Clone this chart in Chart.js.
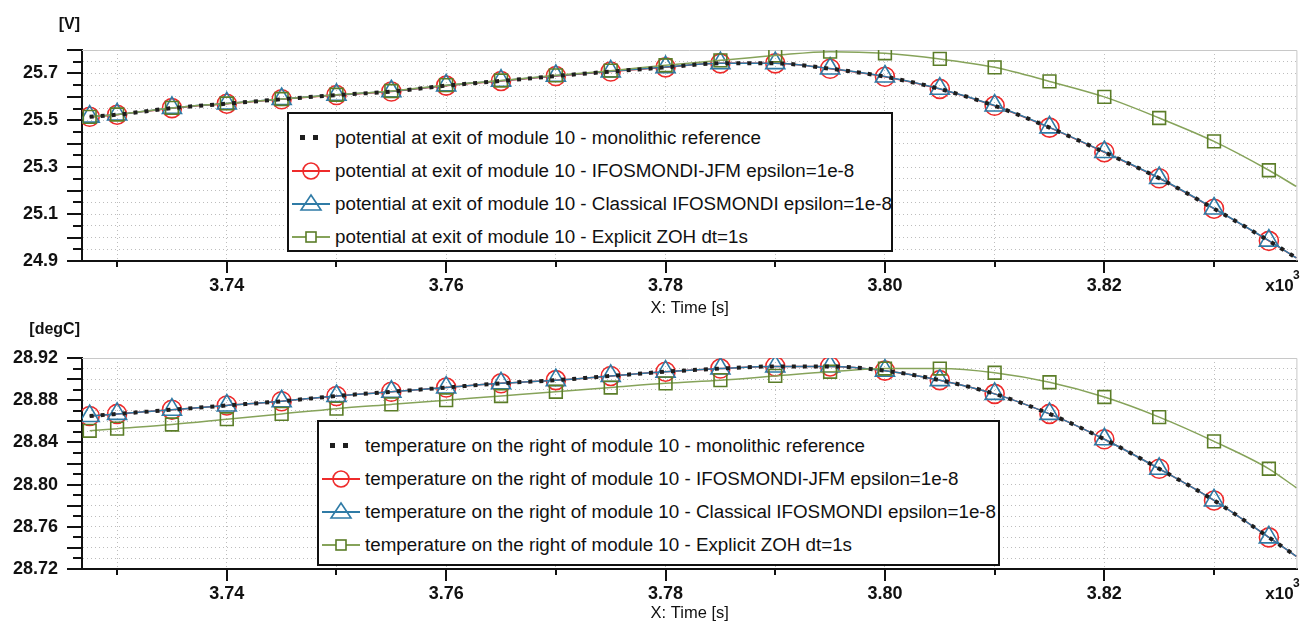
<!DOCTYPE html>
<html>
<head>
<meta charset="utf-8">
<title>Module 10 potential and temperature</title>
<script src="https://cdn.jsdelivr.net/npm/chart.js@4.4.1/dist/chart.umd.min.js"></script>
<style>
  html, body { margin: 0; padding: 0; background: #fff; }
  body { width: 1310px; height: 625px; position: relative; overflow: hidden;
         font-family: "Liberation Sans", Arial, sans-serif; color: #111; }
  .panel { position: absolute; left: 0; width: 1310px; }
  #topPanel { top: 0; height: 320px; }
  #botPanel { top: 320px; height: 305px; }
  .legend { position: absolute; background: #fff; border: 2px solid #111;
            box-sizing: border-box; padding-top: 7px; font-size: 18.8px; }
  .legend .row { display: flex; align-items: center; height: 33px; white-space: nowrap; }
  .legend svg { flex: none; margin: 0 4px 0 2px; }
  #topLegend { left: 287px; top: 112px; width: 606px; height: 140px; }
  #botLegend { left: 317px; top: 420px; width: 683px; height: 146px; }
</style>
</head>
<body>
<div class="panel" id="topPanel"><canvas id="potChart"></canvas></div>
<div class="panel" id="botPanel"><canvas id="tempChart"></canvas></div>
<div class="legend" id="topLegend"></div>
<div class="legend" id="botLegend"></div>
<script>
/* sample times [s]; markers every 5 s, last sample sits on the right edge */
const times = [3727.5, 3730, 3735, 3740, 3745, 3750, 3755, 3760, 3765, 3770, 3775, 3780,
               3785, 3790, 3795, 3800, 3805, 3810, 3815, 3820, 3825, 3830, 3835, 3837.5];

/* potential at exit of module 10 [V] */
const potMonolithic = [25.515, 25.524, 25.552, 25.571, 25.590, 25.608, 25.623, 25.648, 25.668, 25.689, 25.708, 25.726,
                       25.743, 25.743, 25.720, 25.686, 25.634, 25.562, 25.469, 25.364, 25.253, 25.123, 24.986, 24.913];
const potJfm        = [25.515, 25.524, 25.552, 25.571, 25.590, 25.608, 25.623, 25.648, 25.668, 25.689, 25.708, 25.726,
                       25.743, 25.743, 25.720, 25.686, 25.634, 25.562, 25.469, 25.364, 25.253, 25.123, 24.986, 24.913];
const potClassical  = [25.516, 25.525, 25.553, 25.572, 25.591, 25.609, 25.624, 25.649, 25.669, 25.690, 25.709, 25.727,
                       25.744, 25.744, 25.721, 25.687, 25.635, 25.563, 25.470, 25.365, 25.254, 25.124, 24.987, 24.913];
const potZoh        = [25.515, 25.525, 25.553, 25.572, 25.591, 25.609, 25.625, 25.650, 25.670, 25.692, 25.712, 25.735,
                       25.756, 25.777, 25.793, 25.786, 25.762, 25.726, 25.666, 25.600, 25.510, 25.410, 25.287, 25.218];

/* temperature on the right of module 10 [degC] */
const tempMonolithic = [28.865, 28.867, 28.871, 28.875, 28.879, 28.884, 28.888, 28.892, 28.896, 28.899, 28.903, 28.907,
                        28.910, 28.912, 28.912, 28.908, 28.899, 28.886, 28.867, 28.843, 28.815, 28.785, 28.750, 28.732];
const tempJfm        = [28.865, 28.867, 28.871, 28.875, 28.879, 28.884, 28.888, 28.892, 28.896, 28.899, 28.903, 28.907,
                        28.910, 28.912, 28.912, 28.908, 28.899, 28.886, 28.867, 28.843, 28.815, 28.785, 28.750, 28.732];
const tempClassical  = [28.865, 28.867, 28.871, 28.875, 28.879, 28.884, 28.888, 28.892, 28.896, 28.899, 28.903, 28.907,
                        28.910, 28.912, 28.912, 28.908, 28.899, 28.886, 28.867, 28.843, 28.815, 28.785, 28.750, 28.732];
const tempZoh        = [28.851, 28.853, 28.857, 28.862, 28.867, 28.872, 28.876, 28.880, 28.884, 28.888, 28.892, 28.896,
                        28.899, 28.903, 28.907, 28.910, 28.910, 28.906, 28.897, 28.883, 28.864, 28.841, 28.815, 28.797];

/* axis ticks */
const xTicks  = [3730, 3740, 3750, 3760, 3770, 3780, 3790, 3800, 3810, 3820, 3830];
const xLabels = ['3.74', '3.76', '3.78', '3.80', '3.82'];
const potLabels  = ['24.9', '25.1', '25.3', '25.5', '25.7'];
const tempLabels = ['28.72', '28.76', '28.80', '28.84', '28.88', '28.92'];

const potNames = [
  'potential at exit of module 10 - monolithic reference',
  'potential at exit of module 10 - IFOSMONDI-JFM epsilon=1e-8',
  'potential at exit of module 10 - Classical IFOSMONDI epsilon=1e-8',
  'potential at exit of module 10 - Explicit ZOH dt=1s',
];
const tempNames = [
  'temperature on the right of module 10 - monolithic reference',
  'temperature on the right of module 10 - IFOSMONDI-JFM epsilon=1e-8',
  'temperature on the right of module 10 - Classical IFOSMONDI epsilon=1e-8',
  'temperature on the right of module 10 - Explicit ZOH dt=1s',
];

const C = {
  black: '#1e1e1e',
  red: '#ee2b2b',
  blue: '#2f7ba6',
  green: '#5b7d28',
  greenLine: '#86a35a',
  grid: '#bdbdbd',
  frame: '#c8c8c8',
};

const toPts = (ys) => ys.map((y, i) => ({ x: times[i], y }));
const lastHidden = (r) => (ctx) => (ctx.dataIndex === times.length - 1 ? 0 : r);
const isLabel = (v, labels) => labels.some((l) => Math.abs(parseFloat(l) - v) < 1e-6);

function buildDatasets(names, mono, jfm, classical, zoh) {
  return [
    {
      label: names[0], data: toPts(mono), borderColor: C.black, borderWidth: 4,
      borderDash: [4, 7], pointRadius: 0, cubicInterpolationMode: 'monotone', order: 0,
    },
    {
      label: names[1], data: toPts(jfm), borderColor: C.red, borderWidth: 1.5,
      pointStyle: 'circle', pointRadius: lastHidden(9.5), pointBorderColor: C.red,
      pointBackgroundColor: 'transparent', pointBorderWidth: 1.6,
      cubicInterpolationMode: 'monotone', order: 3,
    },
    {
      label: names[2], data: toPts(classical), borderColor: C.blue, borderWidth: 1.5,
      pointStyle: 'triangle', pointRadius: lastHidden(11), pointBorderColor: C.blue,
      pointBackgroundColor: 'transparent', pointBorderWidth: 1.6,
      cubicInterpolationMode: 'monotone', order: 2,
    },
    {
      label: names[3], data: toPts(zoh), borderColor: C.greenLine, borderWidth: 1.5,
      pointStyle: 'rect', pointRadius: lastHidden(9), pointBorderColor: C.green,
      pointBackgroundColor: 'transparent', pointBorderWidth: 1.6,
      cubicInterpolationMode: 'monotone', order: 1,
    },
  ];
}

/* grey frame on top/right, outward tick marks, unit label and x10^3 */
const decor = {
  id: 'decor',
  beforeDatasetsDraw(chart) {
    const { ctx, chartArea: a } = chart;
    ctx.save();
    ctx.strokeStyle = C.frame;
    ctx.lineWidth = 1;
    ctx.beginPath();
    ctx.moveTo(a.left, a.top + 0.5);
    ctx.lineTo(a.right - 0.5, a.top + 0.5);
    ctx.lineTo(a.right - 0.5, a.bottom);
    ctx.stroke();
    ctx.restore();
  },
  afterDraw(chart, args, opts) {
    const { ctx, chartArea: a, scales } = chart;
    ctx.save();
    ctx.strokeStyle = '#111';
    ctx.lineWidth = 2;
    ctx.beginPath();
    scales.y.ticks.forEach((t, i) => {
      const py = Math.round(scales.y.getPixelForValue(t.value));
      const len = i % 2 === 0 ? 15 : 9;
      ctx.moveTo(a.left, py);
      ctx.lineTo(a.left - len, py);
    });
    scales.x.ticks.forEach((t) => {
      const px = Math.round(scales.x.getPixelForValue(t.value));
      const len = xLabels.includes((t.value / 1000).toFixed(2)) ? 12 : 6;
      ctx.moveTo(px, a.bottom);
      ctx.lineTo(px, a.bottom + len);
    });
    ctx.stroke();

    ctx.fillStyle = '#111';
    ctx.font = 'bold 16px "Liberation Sans", Arial, sans-serif';
    ctx.textAlign = 'right';
    ctx.textBaseline = 'middle';
    ctx.fillText(opts.unit, a.left - 2, a.top - opts.unitGap);

    ctx.textAlign = 'center';
    ctx.font = 'bold 17px "Liberation Sans", Arial, sans-serif';
    ctx.fillText('x10', a.right - 18, a.bottom + 25);
    ctx.font = 'bold 12px "Liberation Sans", Arial, sans-serif';
    ctx.fillText('3', a.right - 1, a.bottom + 15);
    ctx.restore();
  },
};

function makeChart(id, cfg) {
  const tickFont = { family: '"Liberation Sans", Arial, sans-serif', size: 18, weight: 'bold' };
  return new Chart(document.getElementById(id), {
    type: 'line',
    data: { datasets: cfg.datasets },
    options: {
      responsive: true,
      maintainAspectRatio: false,
      animation: false,
      layout: { padding: { top: cfg.padTop, right: 5, left: 0, bottom: 0 } },
      plugins: {
        legend: { display: false },
        tooltip: { enabled: false },
        decor: { unit: cfg.unit, unitGap: cfg.unitGap },
      },
      scales: {
        x: {
          type: 'linear',
          min: 3726.8,
          max: 3837.6,
          afterBuildTicks: (s) => { s.ticks = xTicks.map((v) => ({ value: v })); },
          afterFit: (s) => { s.height = cfg.xHeight; },
          ticks: {
            autoSkip: false, maxRotation: 0, padding: 14, color: '#111', font: tickFont,
            callback: (v) => {
              const lbl = (v / 1000).toFixed(2);
              return xLabels.includes(lbl) ? lbl : '';
            },
          },
          grid: { color: C.grid, lineWidth: 1, drawTicks: false },
          border: { color: '#111', width: 2, dash: [1, 3] },
          title: {
            display: true, text: 'X: Time [s]', color: '#111',
            font: { family: '"Liberation Sans", Arial, sans-serif', size: 16.5 },
            padding: { top: 0, bottom: 2 },
          },
        },
        y: {
          min: cfg.yMin,
          max: cfg.yMax,
          afterBuildTicks: (s) => {
            const out = [];
            const n = Math.round((cfg.yMax - cfg.yMin) / cfg.yStep);
            for (let i = 0; i <= n; i++) out.push({ value: +(cfg.yMin + i * cfg.yStep).toFixed(3) });
            s.ticks = out;
          },
          afterFit: (s) => { s.width = 82; },
          ticks: {
            autoSkip: false, padding: 24, color: '#111', font: tickFont,
            callback: (v) => (isLabel(v, cfg.labels) ? v.toFixed(cfg.digits) : ''),
          },
          grid: { color: C.grid, lineWidth: 1, drawTicks: false },
          border: { color: '#111', width: 2, dash: [1, 3] },
        },
      },
    },
    plugins: [decor],
  });
}

makeChart('potChart', {
  datasets: buildDatasets(potNames, potMonolithic, potJfm, potClassical, potZoh),
  padTop: 50, xHeight: 59, yMin: 24.9, yMax: 25.8, yStep: 0.05, digits: 1,
  labels: potLabels, unit: '[V]', unitGap: 25,
});
makeChart('tempChart', {
  datasets: buildDatasets(tempNames, tempMonolithic, tempJfm, tempClassical, tempZoh),
  padTop: 38, xHeight: 56, yMin: 28.72, yMax: 28.92, yStep: 0.01, digits: 2,
  labels: tempLabels, unit: '[degC]', unitGap: 28,
});

/* legends as boxed HTML rows with small svg symbols */
function icon(kind) {
  const line = (col) => `<line x1="1" y1="12" x2="39" y2="12" stroke="${col}" stroke-width="2"/>`;
  let body = '';
  if (kind === 0) {
    body = `<rect x="9" y="9" width="5" height="5" fill="${C.black}"/><rect x="22" y="9" width="5" height="5" fill="${C.black}"/>`;
  } else if (kind === 1) {
    body = line(C.red) + `<circle cx="20" cy="12" r="8" fill="none" stroke="${C.red}" stroke-width="1.6"/>`;
  } else if (kind === 2) {
    body = line(C.blue) + `<polygon points="20,3 30,18 10,18" fill="none" stroke="${C.blue}" stroke-width="1.6"/>`;
  } else {
    body = line(C.greenLine) + `<rect x="15" y="7" width="10" height="10" fill="#fff" stroke="${C.green}" stroke-width="1.6"/>`;
  }
  return `<svg width="40" height="24" viewBox="0 0 40 24">${body}</svg>`;
}
function fillLegend(id, names) {
  document.getElementById(id).innerHTML = names
    .map((n, i) => `<div class="row">${icon(i)}<span>${n}</span></div>`)
    .join('');
}
fillLegend('topLegend', potNames);
fillLegend('botLegend', tempNames);
</script>
</body>
</html>
